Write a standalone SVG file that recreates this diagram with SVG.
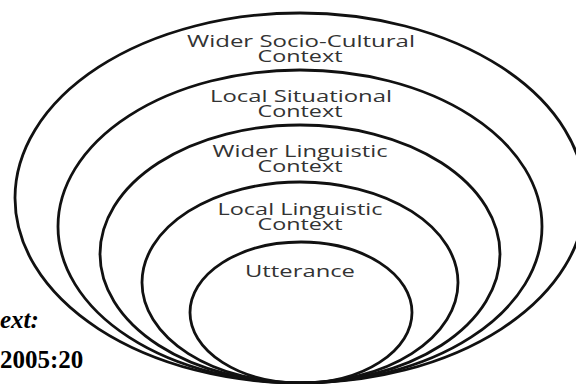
<svg xmlns="http://www.w3.org/2000/svg" width="576" height="384" viewBox="0 0 576 384">
<style>
.ring{fill:none;stroke:#111;stroke-width:2.8}
.lbl{font-family:"Open Sans","Liberation Sans",sans-serif;font-size:17px;fill:#333;text-anchor:middle}
.side{font-family:"Liberation Serif",serif;font-size:25px;font-weight:bold;fill:#000}
</style>
<rect width="576" height="384" fill="#fff"/>
<g id="n1"><ellipse class="ring" cx="300" cy="198" rx="285" ry="185"/>
<text class="lbl" x="301" y="46.5" textLength="228" lengthAdjust="spacingAndGlyphs">Wider Socio-Cultural</text>
<text class="lbl" x="300" y="62" textLength="85" lengthAdjust="spacingAndGlyphs">Context</text></g>
<g id="n2"><ellipse class="ring" cx="300" cy="226.5" rx="242" ry="156.5"/>
<text class="lbl" x="301" y="101.5" textLength="182" lengthAdjust="spacingAndGlyphs">Local Situational</text>
<text class="lbl" x="300" y="117" textLength="85" lengthAdjust="spacingAndGlyphs">Context</text></g>
<g id="n3"><ellipse class="ring" cx="300" cy="254" rx="200" ry="129"/>
<text class="lbl" x="300" y="156.5" textLength="175" lengthAdjust="spacingAndGlyphs">Wider Linguistic</text>
<text class="lbl" x="300" y="172" textLength="85" lengthAdjust="spacingAndGlyphs">Context</text></g>
<g id="n4"><ellipse class="ring" cx="300" cy="282.5" rx="158" ry="100.5"/>
<text class="lbl" x="300" y="214.5" textLength="165" lengthAdjust="spacingAndGlyphs">Local Linguistic</text>
<text class="lbl" x="300" y="230" textLength="85" lengthAdjust="spacingAndGlyphs">Context</text></g>
<g id="n5"><ellipse class="ring" cx="301" cy="312.5" rx="111" ry="70.5"/>
<text class="lbl" x="300" y="277" textLength="110" lengthAdjust="spacingAndGlyphs">Utterance</text></g>
<g id="connectors"></g>
<text class="side" x="0" y="328" font-style="italic">ext:</text>
<text class="side" x="0" y="368">2005:20</text>
</svg>
